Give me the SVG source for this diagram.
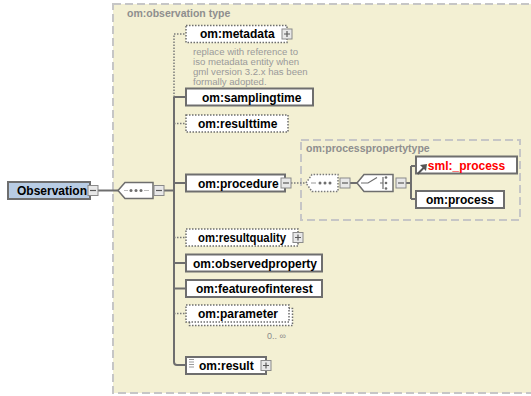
<svg xmlns="http://www.w3.org/2000/svg" width="531" height="396" viewBox="0 0 531 396">
  <style>
    .frame { fill: #f3f0d3; stroke: #c6c6c6; stroke-width: 2; stroke-dasharray: 8 4; }
    .frame-title { font-family: "Liberation Sans", Arial, sans-serif; font-size: 10.5px; font-weight: bold; fill: #8e8e8e; }
    .el { fill: #ffffff; stroke: #6e6e6e; stroke-width: 2; }
    .el-opt { fill: #ffffff; stroke: #6e6e6e; stroke-width: 1.5; stroke-dasharray: 1.5 1.5; }
    .root { fill: #b8cce4; stroke: #6e6e6e; stroke-width: 2; }
    .name { font-family: "Liberation Sans", Arial, sans-serif; font-size: 12px; font-weight: bold; fill: #000000; }
    .name-red { font-family: "Liberation Sans", Arial, sans-serif; font-size: 12px; font-weight: bold; fill: #ff0000; }
    .doc { font-family: "Liberation Sans", Arial, sans-serif; font-size: 9.6px; fill: #9a9a9a; }
    .card { font-family: "Liberation Sans", Arial, sans-serif; font-size: 9px; fill: #8a8a8a; }
    .line { fill: none; stroke: #6e6e6e; stroke-width: 2; }
    .line-opt { fill: none; stroke: #7a7a7a; stroke-width: 1.5; stroke-dasharray: 1.5 1.5; }
    .btn { fill: #e8e8e8; stroke: #8a8a8a; stroke-width: 1; }
    .btn-mark { stroke: #5a5a5a; stroke-width: 1.2; fill: none; }
    .comp { fill: #ffffff; stroke: #6e6e6e; stroke-width: 1.5; }
    .comp-opt { fill: #ffffff; stroke: #7a7a7a; stroke-width: 1.5; stroke-dasharray: 1.5 1.5; }
    .dot { fill: #6e6e6e; }
  </style>
  <defs>
    <g id="minus">
      <rect class="btn" x="0" y="0" width="10" height="10"/>
      <path class="btn-mark" d="M2 5 H8"/>
    </g>
    <g id="plus">
      <rect class="btn" x="0" y="0" width="10" height="10"/>
      <path class="btn-mark" d="M2 5 H8 M5 2 V8"/>
    </g>
  </defs>

  <rect width="531" height="396" fill="#ffffff"/>

  <!-- complex type frame -->
  <g id="observation-type">
    <rect class="frame" x="113" y="4" width="430" height="389"/>
    <text class="frame-title" x="127" y="17">om:observation type</text>
  </g>

  <!-- nested type frame -->
  <g id="processpropertytype">
    <rect class="frame" x="301" y="140" width="219" height="80"/>
    <text class="frame-title" x="306" y="152">om:processpropertytype</text>
  </g>

  <!-- connectors -->
  <g id="connectors">
    <path class="line" d="M98 190.5 H118"/>
    <path class="line" d="M164 190.5 H174"/>
    <path class="line-opt" d="M174 97 V34 H186"/>
    <path class="line" d="M174 97 V362 Q174 365 177 365 H186"/>
    <path class="line" d="M174 97 H186"/>
    <path class="line-opt" d="M174 123.5 H186"/>
    <path class="line" d="M174 183 H186"/>
    <path class="line-opt" d="M174 237.5 H186"/>
    <path class="line" d="M174 263 H186"/>
    <path class="line" d="M174 288.5 H186"/>
    <path class="line-opt" d="M174 313.5 H186"/>
    <path class="line-opt" d="M291 183 H306"/>
    <path class="line" d="M350 183 H357"/>
    <path class="line" d="M406 183 H411"/>
    <path class="line" d="M411 166 V199"/>
    <path class="line" d="M411 166 H416"/>
    <path class="line" d="M411 199 H416"/>
  </g>

  <!-- root element -->
  <g id="observation">
    <rect class="root" x="8" y="182" width="82" height="17"/>
    <text class="name" x="17" y="195">Observation</text>
    <use href="#minus" x="88" y="185.5"/>
  </g>

  <!-- sequence compositor -->
  <g id="sequence">
    <polygon class="comp" points="118,190.5 125,182.5 153,182.5 153,198.5 125,198.5"/>
    <circle class="dot" cx="131" cy="190.5" r="1.5"/>
    <circle class="dot" cx="136" cy="190.5" r="1.5"/>
    <circle class="dot" cx="141" cy="190.5" r="1.5"/>
    <path d="M124 190.5 H128 M144 190.5 H149" stroke="#bbbbbb" stroke-width="1"/>
    <use href="#minus" x="154" y="185.5"/>
  </g>

  <g id="metadata">
    <rect class="el-opt" x="186" y="25.5" width="101" height="17"/>
    <text class="name" x="200" y="38">om:metadata</text>
    <use href="#plus" x="282" y="29"/>
    <text class="doc" x="193" y="55">replace with reference to</text>
    <text class="doc" x="193" y="65">iso metadata entity when</text>
    <text class="doc" x="193" y="75">gml version 3.2.x has been</text>
    <text class="doc" x="193" y="85">formally adopted.</text>
  </g>

  <g id="samplingtime">
    <rect class="el" x="186" y="88.5" width="127" height="17"/>
    <text class="name" x="202" y="101.5">om:samplingtime</text>
  </g>

  <g id="resulttime">
    <rect class="el-opt" x="186" y="115" width="102" height="17"/>
    <text class="name" x="198" y="128">om:resulttime</text>
  </g>

  <g id="procedure">
    <rect class="el" x="186" y="174.5" width="99" height="17"/>
    <text class="name" x="198" y="187.5">om:procedure</text>
    <use href="#minus" x="281" y="178"/>
  </g>

  <!-- inner sequence (optional) -->
  <g id="inner-sequence">
    <polygon class="comp-opt" points="306,183 312,174.5 338,174.5 338,191.5 312,191.5"/>
    <circle class="dot" cx="320" cy="183" r="1.5"/>
    <circle class="dot" cx="325" cy="183" r="1.5"/>
    <circle class="dot" cx="330" cy="183" r="1.5"/>
    <path d="M311 183 H316" stroke="#999999" stroke-width="1"/>
    <use href="#minus" x="340" y="178"/>
  </g>

  <!-- choice compositor -->
  <g id="choice">
    <polygon class="comp" points="357,183 364,174.5 393,174.5 393,191.5 364,191.5"/>
    <path d="M361 183 H368 L377 177.5 M383 177 V189 M380 183 H383" stroke="#6e6e6e" stroke-width="1.2" fill="none"/>
    <circle class="dot" cx="386" cy="177.5" r="1.3"/>
    <circle class="dot" cx="386" cy="183" r="1.3"/>
    <circle class="dot" cx="386" cy="188.5" r="1.3"/>
    <use href="#minus" x="396" y="178"/>
  </g>

  <g id="sml-process">
    <rect class="el" x="416" y="156.5" width="101" height="17"/>
    <text class="name-red" x="466.5" y="169.5" text-anchor="middle">sml:_process</text>
    <path d="M417.5 174 L425 166.5" stroke="#555555" stroke-width="2"/>
    <polygon points="420,165 427,164 426,171" fill="#555555"/>
  </g>

  <g id="process">
    <rect class="el" x="416" y="191" width="88" height="17"/>
    <text class="name" x="460" y="204" text-anchor="middle">om:process</text>
  </g>

  <g id="resultquality">
    <rect class="el-opt" x="186" y="229" width="112" height="17"/>
    <text class="name" x="198" y="242" textLength="88" lengthAdjust="spacingAndGlyphs">om:resultquality</text>
    <use href="#plus" x="293" y="232.5"/>
  </g>

  <g id="observedproperty">
    <rect class="el" x="186" y="254.5" width="136" height="17"/>
    <text class="name" x="193" y="267.5">om:observedproperty</text>
  </g>

  <g id="featureofinterest">
    <rect class="el" x="186" y="280" width="136" height="17"/>
    <text class="name" x="196" y="293">om:featureofinterest</text>
  </g>

  <g id="parameter">
    <rect class="el-opt" x="189.5" y="308.5" width="103" height="17"/>
    <rect class="el-opt" x="186" y="305" width="103" height="17"/>
    <text class="name" x="198" y="318">om:parameter</text>
    <text class="card" x="267" y="339">0.. ∞</text>
  </g>

  <g id="result">
    <rect class="el" x="186" y="357" width="80" height="17"/>
    <path d="M189 359.5 H194 M189 362 H194 M189 364.5 H194 M189 367 H194" stroke="#9a9a9a" stroke-width="1"/>
    <text class="name" x="199" y="370">om:result</text>
    <use href="#plus" x="261" y="360.5"/>
  </g>
</svg>
